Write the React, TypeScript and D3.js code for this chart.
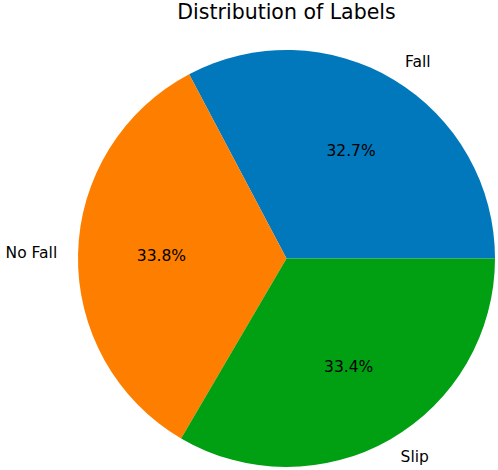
import React, { useEffect, useRef } from "react";
import * as d3 from "d3";

const labels = ["Fall", "No Fall", "Slip"];
const shares = [32.7, 33.8, 33.4];
const colors = ["#0178bb", "#fe7f00", "#00a012"];

const width = 498;
const height = 470;
const cx = 286.5;
const cy = 258.5;
const radius = 208.5;

const drawChart = (svgEl: SVGSVGElement) => {
  const svg = d3.select(svgEl);
  svg.selectAll("*").remove();

  svg
    .append("text")
    .attr("x", cx)
    .attr("y", 18.5)
    .attr("text-anchor", "middle")
    .attr("font-size", 20.5)
    .text("Distribution of Labels");

  // matplotlib style: start at 3 o'clock, go counterclockwise
  const pie = d3
    .pie<number>()
    .sort(null)
    .startAngle(Math.PI / 2)
    .endAngle(Math.PI / 2 - 2 * Math.PI);

  const arcs = pie(shares);
  const arc = d3.arc<d3.PieArcDatum<number>>().innerRadius(0).outerRadius(radius);

  const g = svg.append("g").attr("transform", `translate(${cx},${cy})`);

  g.selectAll("path")
    .data(arcs)
    .enter()
    .append("path")
    .attr("d", arc)
    .attr("fill", (d, i) => colors[i]);

  const pos = (d: d3.PieArcDatum<number>, k: number) => {
    const a = (d.startAngle + d.endAngle) / 2;
    return [Math.sin(a) * radius * k, -Math.cos(a) * radius * k];
  };

  g.selectAll("text.pct")
    .data(arcs)
    .enter()
    .append("text")
    .attr("class", "pct")
    .attr("x", (d) => pos(d, 0.6)[0])
    .attr("y", (d) => pos(d, 0.6)[1])
    .attr("text-anchor", "middle")
    .attr("dominant-baseline", "central")
    .attr("font-size", 15.5)
    .text((d) => `${d.data.toFixed(1)}%`);

  g.selectAll("text.lbl")
    .data(arcs)
    .enter()
    .append("text")
    .attr("class", "lbl")
    .attr("x", (d) => pos(d, 1.1)[0])
    .attr("y", (d) => pos(d, 1.1)[1])
    .attr("text-anchor", (d) => (pos(d, 1)[0] > 0 ? "start" : "end"))
    .attr("dominant-baseline", "central")
    .attr("font-size", 15.5)
    .text((d, i) => labels[i]);
};

export default function App() {
  const ref = useRef<SVGSVGElement>(null);
  useEffect(() => {
    if (ref.current) drawChart(ref.current);
  }, []);
  return (
    <svg
      ref={ref}
      width={width}
      height={height}
      fontFamily="DejaVu Sans"
      style={{ position: "absolute", left: 0, top: 0, background: "#fff" }}
    />
  );
}
